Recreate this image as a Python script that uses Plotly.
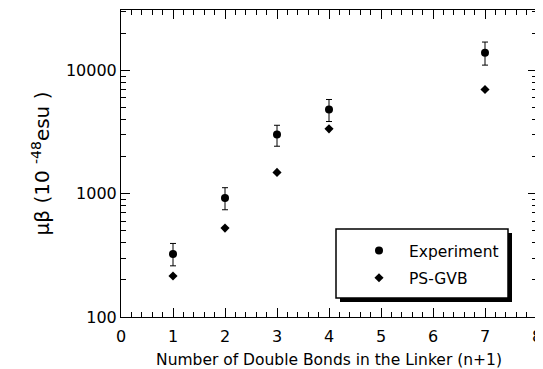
import plotly.graph_objects as go

n_bonds = [1, 2, 3, 4, 7]
experiment = [324, 923, 3020, 4820, 13930]
exp_err_plus = [71, 196, 570, 990, 3050]
exp_err_minus = [64, 182, 593, 970, 2890]
ps_gvb = [215, 526, 1489, 3357, 7010]

y_tickvals = [100, 1000, 10000]
y_ticktext = ["100", "1000", "10000"]
x_tickvals = [0, 1, 2, 3, 4, 5, 6, 7, 8]

FONT = "DejaVu Sans"

fig = go.Figure()
fig.add_trace(go.Scatter(
    x=n_bonds, y=experiment, mode="markers", name="Experiment",
    marker=dict(symbol="circle", size=8, color="black"),
    error_y=dict(type="data", array=exp_err_plus, arrayminus=exp_err_minus,
                 color="black", thickness=1, width=3),
    legendgroup="a",
))
fig.add_trace(go.Scatter(
    x=n_bonds, y=ps_gvb, mode="markers", name="PS-GVB",
    marker=dict(symbol="diamond", size=7, color="black"),
    legendgroup="b",
))

# page offset of the figure inside the browser window (body margin)
OFF = 8
W, H = 535, 361
# plot area in screen pixels
SL, SR, ST, SB = 121, 537, 10, 317
L, T = SL - OFF, ST - OFF
R, B = W - (SR - OFF), H - (SB - OFF)
pw, ph = SR - SL, SB - ST

def px_x(px):
    return (px - SL) / pw

def px_y(py):
    return (SB - py) / ph

# legend box and drop shadow
fig.add_shape(type="rect", xref="paper", yref="paper",
              x0=px_x(340), x1=px_x(512), y0=px_y(302), y1=px_y(233),
              fillcolor="black", line=dict(width=0), layer="above")
fig.add_shape(type="rect", xref="paper", yref="paper",
              x0=px_x(336), x1=px_x(508), y0=px_y(298), y1=px_y(229),
              fillcolor="white", line=dict(color="black", width=1.5), layer="above")

axis_common = dict(
    showline=True, linecolor="black", linewidth=1, mirror="allticks",
    ticks="inside", tickcolor="black", ticklen=9, tickwidth=1,
    showgrid=False, zeroline=False, automargin=False,
    tickfont=dict(family=FONT, size=16, color="black"),
)

fig.update_xaxes(
    range=[0, 8], tickvals=x_tickvals, ticklabelstandoff=5,
    minor=dict(ticks="inside", ticklen=5, dtick=0.2, tickcolor="black", showgrid=False),
    title=dict(text="Number of Double Bonds in the Linker (n+1)",
               font=dict(family=FONT, size=15.5, color="black"), standoff=8),
    **axis_common,
)
fig.update_yaxes(
    type="log", range=[2, 4.49], tickvals=y_tickvals, ticktext=y_ticktext,
    minor=dict(ticks="inside", ticklen=5, dtick="D1", tickcolor="black", showgrid=False),
    title=dict(text="μβ (10 <sup>-48</sup>esu )",
               font=dict(family=FONT, size=20, color="black"), standoff=10),
    **axis_common,
)

fig.update_layout(
    width=W, height=H,
    margin=dict(l=L, r=R, t=T, b=B),
    paper_bgcolor="white", plot_bgcolor="white",
    font=dict(family=FONT, color="black"),
    legend=dict(x=px_x(349), y=px_y(234), xanchor="left", yanchor="top",
                bgcolor="rgba(0,0,0,0)", borderwidth=0,
                font=dict(family=FONT, size=15.5, color="black"),
                tracegroupgap=4, itemwidth=50),
)

fig.write_html("out.html")
